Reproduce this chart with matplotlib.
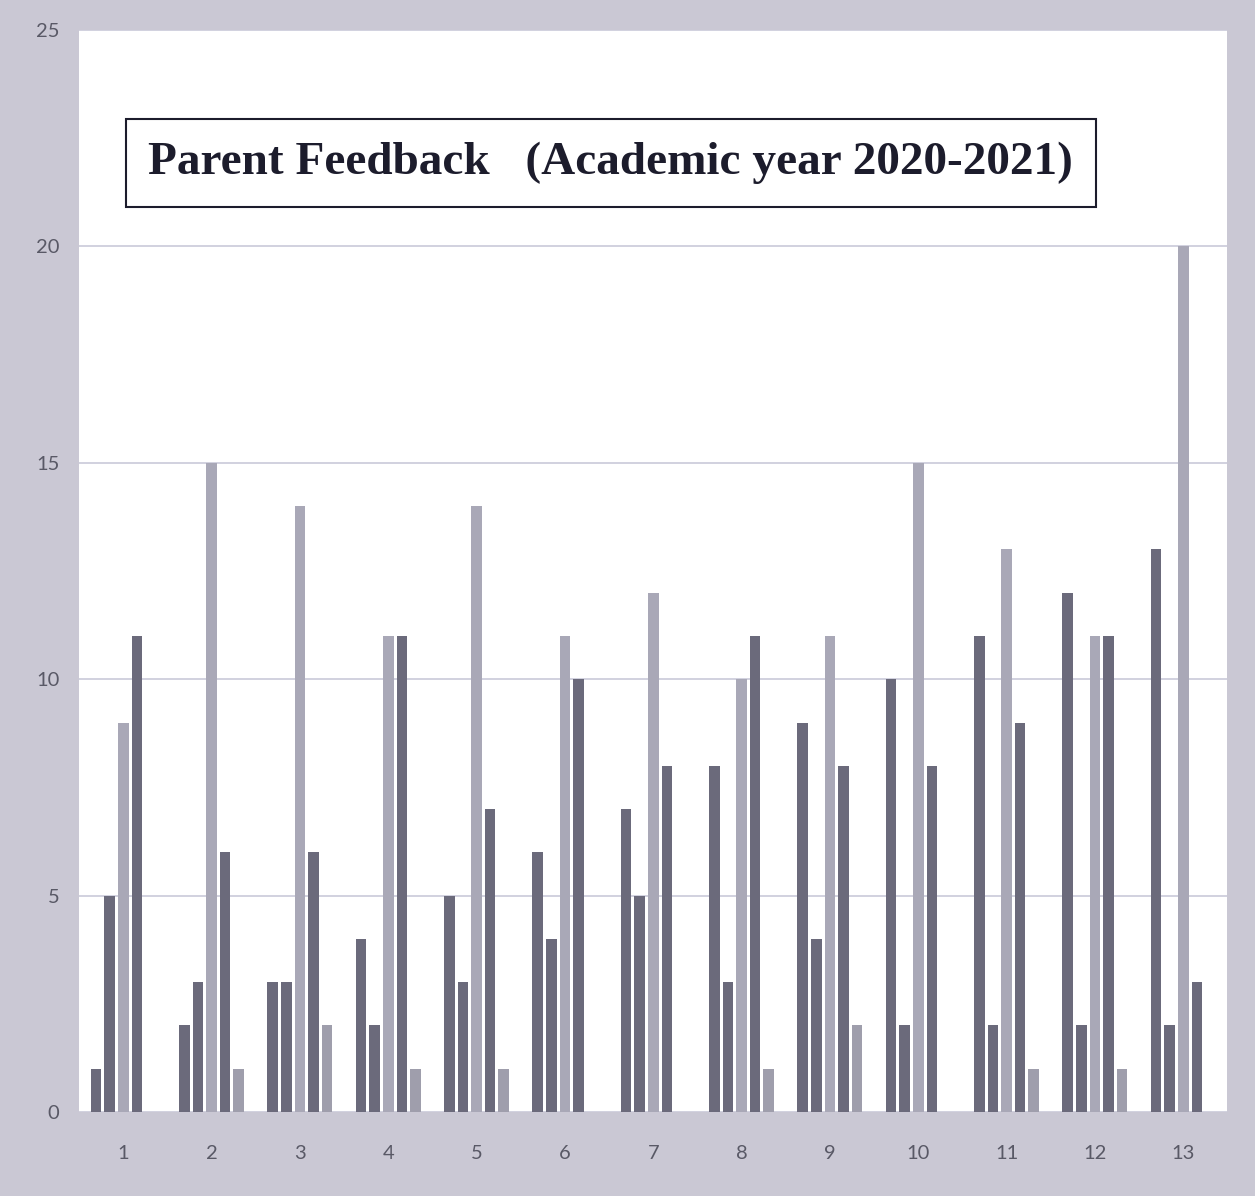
import numpy as np
import matplotlib.pyplot as plt

groups = [str(i) for i in range(1, 14)]
s1 = [1, 2, 3, 4, 5, 6, 7, 8, 9, 10, 11, 12, 13]
s2 = [5, 3, 3, 2, 3, 4, 5, 3, 4, 2, 2, 2, 2]
s3 = [9, 15, 14, 11, 14, 11, 12, 10, 11, 15, 13, 11, 20]
s4 = [11, 6, 6, 11, 7, 10, 8, 11, 8, 8, 9, 11, 3]
s5 = [0, 1, 2, 1, 1, 0, 0, 1, 2, 0, 1, 1, 0]
title = 'Parent Feedback   (Academic year 2020-2021)'

series = [s1, s2, s3, s4, s5]
colors = ['#6b6a7b', '#6b6a7b', '#a9a8b7', '#6b6a7b', '#9f9eac']

fig = plt.figure(figsize=(12.55, 11.96), dpi=100, facecolor='#cac8d4')
ax = fig.add_axes([0.063, 0.0702, 0.915, 0.9047])
ax.set_facecolor('white')

x = np.arange(1, len(groups) + 1)
step = 0.154
width = 0.12
for i, (vals, c) in enumerate(zip(series, colors)):
    ax.bar(x + (i - 2) * step, vals, width=width, color=c, zorder=3)

ax.set_xlim(0.5, 13.5)
ax.set_ylim(0, 25)
ax.set_yticks([0, 5, 10, 15, 20, 25])
ax.set_xticks(x, labels=groups)
ax.yaxis.grid(True, color='#c9c9d9', linewidth=1.2, zorder=0)
ax.tick_params(length=0, labelsize=14.5, labelcolor='#595966', pad=14)
ax.tick_params(axis='x', pad=24)
for lbl in ax.get_xticklabels() + ax.get_yticklabels():
    lbl.set_fontfamily('Lato')
for sp in ax.spines.values():
    sp.set_visible(False)

ax.text(0.463, 0.877, title, transform=ax.transAxes, ha='center', va='center',
        fontsize=34, fontweight='bold', family='Liberation Serif', color='#1c1c2c',
        bbox=dict(boxstyle='square,pad=0.48', facecolor='white', edgecolor='#1c1c2c', linewidth=1.5))

plt.savefig('out.png', dpi=100, facecolor=fig.get_facecolor())
